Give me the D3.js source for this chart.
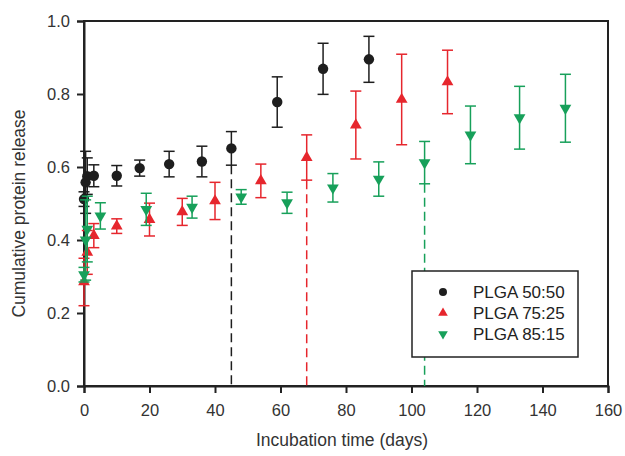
<!DOCTYPE html>
<html>
<head>
<meta charset="utf-8">
<script src="https://cdn.jsdelivr.net/npm/d3@7"></script>
<style>
  body { margin: 0; background: #fff; }
  text { font-family: "Liberation Sans", Arial, sans-serif; }
</style>
</head>
<body>
<div id="chart"></div>
<script>
/* DATA */
const xTicks = [0, 20, 40, 60, 80, 100, 120, 140, 160];
const yTicks = [0, 0.2, 0.4, 0.6, 0.8, 1.0];

// PLGA 50:50
const days5050 = [0, 0.5, 1, 3, 10, 17, 26, 36, 45, 59, 73, 87];
const mean5050 = [0.512, 0.558, 0.575, 0.576, 0.576, 0.597, 0.608, 0.615, 0.651, 0.778, 0.869, 0.895];
const err5050  = [0.02, 0.085, 0.05, 0.03, 0.028, 0.022, 0.035, 0.042, 0.046, 0.069, 0.07, 0.063];

// PLGA 75:25
const days7525 = [0, 1, 3, 10, 20, 30, 40, 54, 68, 83, 97, 111];
const mean7525 = [0.285, 0.366, 0.412, 0.438, 0.456, 0.477, 0.507, 0.562, 0.626, 0.715, 0.785, 0.833];
const err7525  = [0.065, 0.06, 0.033, 0.02, 0.045, 0.037, 0.051, 0.046, 0.062, 0.093, 0.124, 0.087];

// PLGA 85:15
const days8515 = [0, 0.5, 1, 5, 19, 33, 48, 62, 76, 90, 104, 118, 133, 147];
const mean8515 = [0.305, 0.40, 0.43, 0.466, 0.484, 0.49, 0.518, 0.502, 0.543, 0.567, 0.612, 0.688, 0.735, 0.761];
const err8515  = [0.02, 0.11, 0.09, 0.036, 0.044, 0.03, 0.02, 0.029, 0.039, 0.047, 0.058, 0.079, 0.086, 0.093];

// dashed markers (day where each formulation is drawn down to the axis)
const dropDays = [45, 68, 104];

const series = [
  {name: "PLGA 50:50", days: days5050, mean: mean5050, err: err5050, color: "#1e1e1e", symbol: "circle"},
  {name: "PLGA 75:25", days: days7525, mean: mean7525, err: err7525, color: "#e6262d", symbol: "up"},
  {name: "PLGA 85:15", days: days8515, mean: mean8515, err: err8515, color: "#17a05a", symbol: "down"}
];

/* LAYOUT */
const W = 625, H = 456;
const margin = {top: 21, right: 17, bottom: 70, left: 84};

const svg = d3.select("#chart").append("svg")
  .attr("width", W).attr("height", H);

const x = d3.scaleLinear().domain([0, 160]).range([margin.left, W - margin.right]);
const y = d3.scaleLinear().domain([0, 1]).range([H - margin.bottom, margin.top]);

// frame
svg.append("rect")
  .attr("x", x(0)).attr("y", y(1))
  .attr("width", x(160) - x(0)).attr("height", y(0) - y(1))
  .attr("fill", "none").attr("stroke", "#222").attr("stroke-width", 2);

const xAxis = d3.axisBottom(x).tickValues(xTicks).tickSize(7).tickPadding(11).tickFormat(d3.format("d"));
const yAxis = d3.axisLeft(y).tickValues(yTicks).tickSize(7).tickPadding(7).tickFormat(d3.format(".1f"));

const gx = svg.append("g").attr("transform", `translate(0,${y(0)})`).call(xAxis);
const gy = svg.append("g").attr("transform", `translate(${x(0)},0)`).call(yAxis);
[gx, gy].forEach(g => {
  g.select(".domain").attr("stroke", "#222").attr("stroke-width", 2);
  g.selectAll(".tick line").attr("stroke", "#222").attr("stroke-width", 2);
  g.selectAll(".tick text").attr("fill", "#333").attr("font-size", 16.5);
});

svg.append("text")
  .attr("x", (x(0) + x(160)) / 2 - 4).attr("y", 446)
  .attr("text-anchor", "middle").attr("font-size", 17.5).attr("fill", "#333")
  .text("Incubation time (days)");

svg.append("text")
  .attr("transform", `translate(25,${(y(0) + y(1)) / 2 + 10}) rotate(-90)`)
  .attr("text-anchor", "middle").attr("font-size", 17.5).attr("fill", "#333")
  .text("Cumulative protein release");

// dashed drop lines
dropDays.forEach((dd, i) => {
  const s = series[i];
  const k = s.days.indexOf(dd);
  svg.append("line")
    .attr("x1", x(dd)).attr("x2", x(dd))
    .attr("y1", y(s.mean[k] - s.err[k])).attr("y2", y(0))
    .attr("stroke", s.color).attr("stroke-width", 1.5)
    .attr("stroke-dasharray", "9,5");
});

// symbols
const triUp = d3.symbol().type(d3.symbolTriangle).size(60);
function markerPath(sym) {
  if (sym === "circle") return d3.symbol().type(d3.symbolCircle).size(85)();
  return triUp();
}

series.forEach(s => {
  const g = svg.append("g");
  const pts = s.days.map((d, i) => ({d, m: s.mean[i], e: s.err[i]}));
  const cap = 5.5;
  g.selectAll("line.bar").data(pts).join("line")
    .attr("x1", p => x(p.d)).attr("x2", p => x(p.d))
    .attr("y1", p => y(p.m + p.e)).attr("y2", p => y(p.m - p.e))
    .attr("stroke", s.color).attr("stroke-width", 1.5);
  g.selectAll("line.top").data(pts).join("line")
    .attr("x1", p => x(p.d) - cap).attr("x2", p => x(p.d) + cap)
    .attr("y1", p => y(p.m + p.e)).attr("y2", p => y(p.m + p.e))
    .attr("stroke", s.color).attr("stroke-width", 1.5);
  g.selectAll("line.bot").data(pts).join("line")
    .attr("x1", p => x(p.d) - cap).attr("x2", p => x(p.d) + cap)
    .attr("y1", p => y(p.m - p.e)).attr("y2", p => y(p.m - p.e))
    .attr("stroke", s.color).attr("stroke-width", 1.5);
  g.selectAll("path").data(pts).join("path")
    .attr("d", markerPath(s.symbol))
    .attr("transform", p => `translate(${x(p.d)},${y(p.m)})` + (s.symbol === "down" ? " rotate(180)" : ""))
    .attr("fill", s.color);
});

// legend
const leg = svg.append("g").attr("transform", "translate(412,271)");
leg.append("rect").attr("width", 166).attr("height", 86)
  .attr("fill", "#fff").attr("stroke", "#222").attr("stroke-width", 1.5);
series.forEach((s, i) => {
  const yy = 21 + i * 21;
  leg.append("path")
    .attr("d", s.symbol === "circle" ? d3.symbol().type(d3.symbolCircle).size(50)() : d3.symbol().type(d3.symbolTriangle).size(40)())
    .attr("transform", `translate(31,${yy})` + (s.symbol === "down" ? " rotate(180)" : ""))
    .attr("fill", s.color);
  leg.append("text").attr("x", 61).attr("y", yy + 6)
    .attr("font-size", 17).attr("fill", "#222").text(s.name);
});
</script>
</body>
</html>
